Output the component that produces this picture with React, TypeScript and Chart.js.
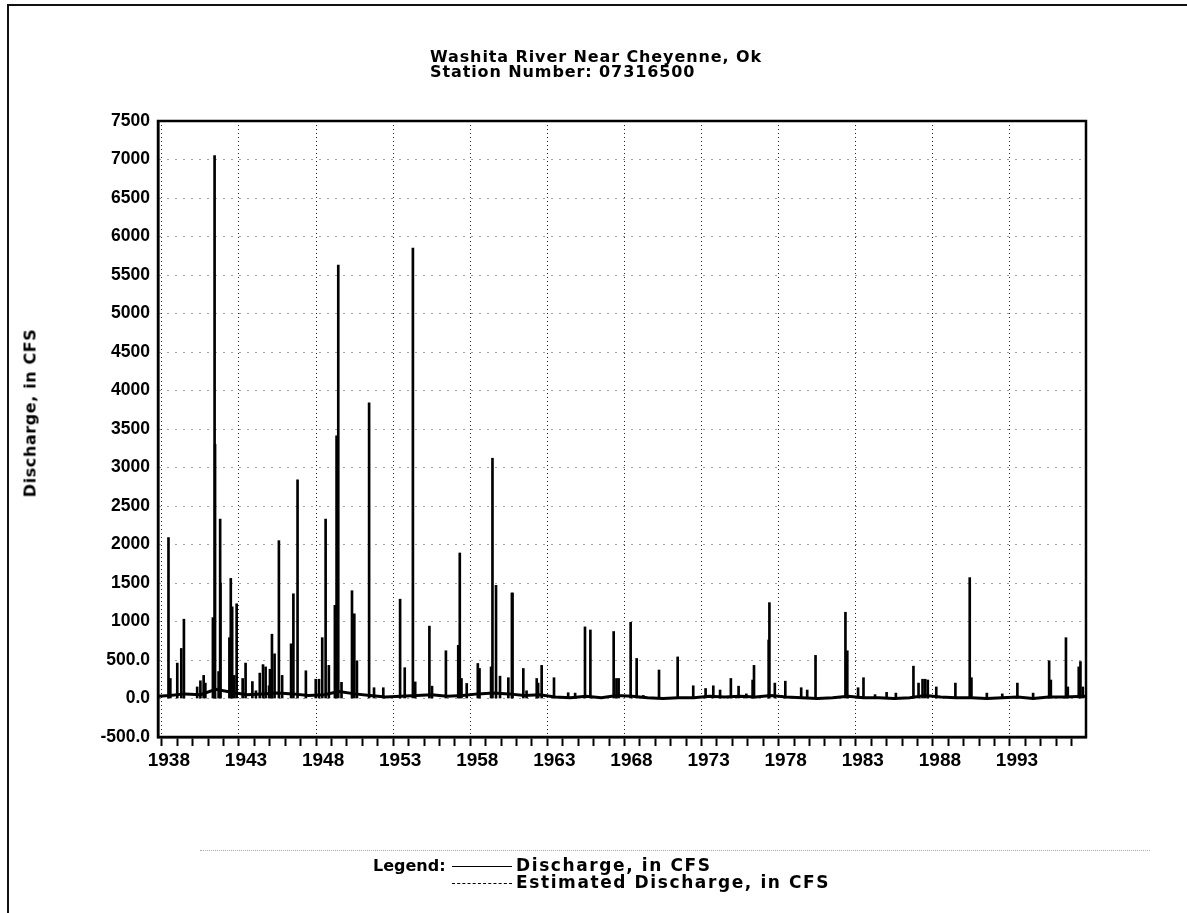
import React, { useEffect, useRef } from "react";
import { Chart, registerables } from "chart.js";

Chart.register(...registerables);

const titleLines = ["Washita River Near Cheyenne, Ok", "Station Number: 07316500"];
const yAxisTitle = "Discharge, in CFS";
const legendHeading = "Legend:";
const legendLabels = ["Discharge, in CFS", "Estimated Discharge, in CFS"];

const xMin = 1937.75;
const xMax = 1997.93;
const yMin = -500;
const yMax = 7500;
const yStep = 500;
const xLabelYears = [1938, 1943, 1948, 1953, 1958, 1963, 1968, 1973, 1978, 1983, 1988, 1993];

// daily peaks (decimal year, CFS)
const peakYears = [
  1938.43, 1938.55, 1939.0, 1939.26, 1939.43, 1940.29, 1940.5, 1940.71, 1940.82,
  1941.31, 1941.4, 1941.42, 1941.45, 1941.68, 1941.78, 1941.8, 1942.38, 1942.47, 1942.56,
  1942.7, 1942.85, 1943.24, 1943.43, 1943.87, 1944.1, 1944.35, 1944.56, 1944.73, 1944.95,
  1945.01, 1945.14, 1945.31, 1945.59, 1945.8, 1946.38, 1946.53, 1946.8, 1947.34, 1947.98,
  1948.19, 1948.4, 1948.62, 1948.83, 1949.22, 1949.33, 1949.44, 1949.65, 1950.33, 1950.48,
  1950.65, 1951.44, 1951.76, 1952.36, 1953.45, 1953.75, 1954.28, 1954.43, 1955.35, 1955.52,
  1956.42, 1957.22, 1957.32, 1957.43, 1957.77, 1958.49, 1958.6, 1959.35, 1959.44, 1959.67,
  1959.93, 1960.47, 1960.7, 1960.74, 1961.44, 1961.65, 1962.31, 1962.4, 1962.63, 1963.43,
  1964.35, 1964.8, 1965.44, 1965.79, 1967.3, 1967.48, 1967.62, 1968.4, 1968.79, 1969.22,
  1970.24, 1971.45, 1972.46, 1973.26, 1973.76, 1974.2, 1974.9, 1975.4, 1975.9, 1976.31,
  1976.4, 1977.35, 1977.4, 1977.75, 1978.43, 1979.46, 1979.85, 1980.39, 1982.33, 1982.45,
  1983.15, 1983.5, 1984.25, 1985.0, 1985.6, 1986.74, 1987.07, 1987.33, 1987.5, 1987.67,
  1988.22, 1989.46, 1990.39, 1990.5, 1991.5, 1992.5, 1993.48, 1994.5, 1995.54, 1995.65,
  1996.63, 1996.75, 1997.46, 1997.57, 1997.72,
];
const peakFlows = [
  2090, 260, 460, 650, 1030, 150, 230, 300, 200,
  1050, 1000, 7050, 3300, 350, 2330, 1500, 790, 1560, 1190,
  300, 1230, 260, 460, 220, 100, 330, 440, 410, 165,
  380, 835, 580, 2050, 300, 710, 1360, 2840, 360, 250,
  250, 790, 2330, 430, 1210, 3410, 5630, 210, 1400, 1100,
  490, 3840, 140, 140, 1290, 400, 5850, 215, 940, 160,
  620, 690, 1890, 260, 195, 455, 390, 410, 3120, 1470,
  290, 270, 1370, 1370, 390, 100, 260, 200, 430, 270,
  75, 70, 930, 890, 870, 260, 260, 990, 520, 40,
  370, 540, 165, 130, 165, 110, 260, 160, 60, 240,
  430, 760, 1245, 200, 225, 140, 110, 560, 1120, 620,
  140, 270, 50, 80, 70, 420, 200, 250, 250, 240,
  150, 200, 1570, 270, 70, 60, 200, 70, 490, 240,
  790, 150, 410, 480, 150,
];

// low-flow trace between events (decimal year, CFS)
const baseYears = [
  1937.75, 1938.5, 1939.5, 1940.5, 1941.5, 1942.5, 1943.5, 1944.5, 1945.5, 1946.5,
  1947.5, 1948.5, 1949.5, 1950.5, 1951.5, 1952.5, 1953.5, 1954.5, 1955.5, 1956.5,
  1957.5, 1958.5, 1959.5, 1960.5, 1961.5, 1962.5, 1963.5, 1964.5, 1965.5, 1966.5,
  1967.5, 1968.5, 1969.5, 1970.5, 1971.5, 1972.5, 1973.5, 1974.5, 1975.5, 1976.5,
  1977.5, 1978.5, 1979.5, 1980.5, 1981.5, 1982.5, 1983.5, 1984.5, 1985.5, 1986.5,
  1987.5, 1988.5, 1989.5, 1990.5, 1991.5, 1992.5, 1993.5, 1994.5, 1995.5, 1996.5,
  1997.93,
];
const baseFlows = [
  30, 40, 60, 50, 120, 80, 50, 60, 70, 60,
  40, 50, 90, 60, 40, 20, 30, 40, 50, 30,
  40, 60, 70, 60, 40, 50, 20, 10, 30, 10,
  40, 30, 10, 0, 10, 10, 30, 20, 30, 20,
  40, 20, 10, 0, 10, 30, 10, 10, 0, 10,
  40, 20, 10, 10, 0, 10, 20, 0, 20, 20,
  30,
];

const xTickFont = { family: "'Liberation Sans', sans-serif", size: 19, weight: "bold" as const };
const yTickFont = { family: "'Liberation Sans', sans-serif", size: 17.5, weight: "bold" as const };
const titleFont = "bold 16px 'DejaVu Sans', sans-serif";
const legendFont = "bold 17px 'DejaVu Sans', sans-serif";

export default function App() {
  const ref = useRef<HTMLCanvasElement>(null);

  useEffect(() => {
    const canvas = ref.current;
    if (!canvas) return;
    const boxPlugin = {
      id: "plotBox",
      afterDraw(chart: any) {
        const { ctx, chartArea: a } = chart;
        ctx.save();
        ctx.strokeStyle = "#000";
        ctx.lineWidth = 2.5;
        ctx.strokeRect(a.left, a.top, a.right - a.left, a.bottom - a.top);
        ctx.restore();
      },
    };
    const chart = new Chart(canvas, {
      type: "bar",
      data: {
        datasets: [
          {
            type: "line",
            label: legendLabels[0],
            data: baseYears.map((x, i) => ({ x, y: baseFlows[i] })),
            borderColor: "#000",
            borderWidth: 3,
            pointRadius: 0,
            tension: 0,
            order: 1,
          } as any,
          {
            type: "bar",
            label: legendLabels[0],
            data: peakYears.map((x, i) => ({ x, y: peakFlows[i] })),
            backgroundColor: "#000",
            borderWidth: 0,
            barThickness: 2,
            grouped: false,
            order: 2,
          } as any,
        ],
      },
      options: {
        animation: false,
        responsive: false,
        maintainAspectRatio: false,
        layout: { padding: { left: 0, top: 121, right: 101, bottom: 136 } },
        plugins: {
          legend: { display: false },
          tooltip: { enabled: false },
          title: { display: false },
        },
        scales: {
          x: {
            type: "linear",
            min: xMin,
            max: xMax,
            offset: false,
            afterFit: (s: any) => {
              s.height = 40;
            },
            ticks: {
              stepSize: 1,
              includeBounds: false,
              autoSkip: false,
              maxRotation: 0,
              minRotation: 0,
              padding: 3,
              labelOffset: 7,
              color: "#000",
              font: xTickFont,
              callback: (v: any) => (xLabelYears.includes(Number(v)) ? String(v) : ""),
            },
            grid: {
              offset: false,
              color: (c: any) =>
                c.tick && xLabelYears.includes(c.tick.value) ? "#222" : "rgba(0,0,0,0)",
              tickColor: "#000",
              tickLength: 9,
              tickWidth: 2,
              lineWidth: 1,
            },
            border: { color: "#000", width: 2.5, dash: [1, 3] },
          },
          y: {
            type: "linear",
            min: yMin,
            max: yMax,
            afterFit: (s: any) => {
              s.width = 158;
            },
            ticks: {
              stepSize: yStep,
              padding: 8,
              color: "#000",
              font: yTickFont,
              callback: (v: any) =>
                Math.abs(Number(v)) >= 1000 ? String(v) : Number(v).toFixed(1),
            },
            grid: { color: "#444", drawTicks: false, lineWidth: 1 },
            border: { color: "#000", width: 2.5, dash: [1, 7] },
          },
        },
      } as any,
      plugins: [boxPlugin],
    });
    return () => chart.destroy();
  }, []);

  const abs: React.CSSProperties = { position: "absolute", margin: 0, color: "#000" };

  return (
    <div>
      <div
        style={{
          ...abs,
          left: 7,
          top: 4,
          width: 1180,
          height: 909,
          borderLeft: "2px solid #111",
          borderTop: "2px solid #111",
          boxSizing: "border-box",
        }}
      />
      <canvas
        ref={ref}
        width={1187}
        height={913}
        style={{ ...abs, left: 0, top: 0, width: 1187, height: 913 }}
      />
      <div
        style={{
          ...abs,
          left: 430,
          top: 49,
          font: titleFont,
          letterSpacing: "0.9px",
          lineHeight: "15px",
          whiteSpace: "pre",
        }}
      >
        {titleLines[0]}
        <br />
        {titleLines[1]}
      </div>
      <div
        style={{
          ...abs,
          left: 30,
          top: 413,
          font: titleFont,
          letterSpacing: "0.6px",
          whiteSpace: "nowrap",
          transform: "translate(-50%, -50%) rotate(-90deg)",
        }}
      >
        {yAxisTitle}
      </div>
      <div
        style={{
          ...abs,
          left: 200,
          top: 850,
          width: 950,
          borderTop: "1px dotted #aaa",
        }}
      />
      <div style={{ ...abs, left: 373, top: 857, font: titleFont, lineHeight: "17px", whiteSpace: "pre" }}>
        {legendHeading}
      </div>
      <div style={{ ...abs, left: 452, top: 866, width: 60, borderTop: "1px solid #000" }} />
      <div style={{ ...abs, left: 452, top: 883, width: 60, borderTop: "1px dashed #000" }} />
      <div
        style={{
          ...abs,
          left: 516,
          top: 857,
          font: legendFont,
          letterSpacing: "1.6px",
          lineHeight: "17px",
          whiteSpace: "pre",
        }}
      >
        {legendLabels[0]}
        <br />
        {legendLabels[1]}
      </div>
    </div>
  );
}
